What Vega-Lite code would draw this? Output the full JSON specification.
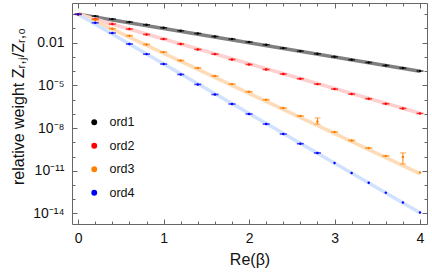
{
  "$schema": "https://vega.github.io/schema/vega-lite/v6.json",
  "width": 355,
  "height": 221,
  "autosize": {"type": "none"},
  "padding": {"left": 72, "top": 3, "right": 5, "bottom": 49},
  "background": "white",
  "config": {
    "font": "Liberation Sans",
    "view": {"stroke": "#666", "strokeWidth": 1},
    "axis": {"domain": false, "grid": false, "tickColor": "#666", "labelColor": "#111", "titleColor": "#111", "labelFont": "Liberation Sans", "titleFont": "Liberation Sans", "labelFontSize": 14, "titleFontSize": 16, "titleFontWeight": "normal"},
    "legend": {"labelFont": "Liberation Sans", "labelFontSize": 12.5, "labelColor": "#111"}
  },
  "datasets": {
    "pts": [
      {"s": "ord1", "x": 0, "y": 1, "cap": 1},
      {"s": "ord1", "x": 0.2, "y": 0.741, "cap": 1},
      {"s": "ord1", "x": 0.4, "y": 0.457, "cap": 1},
      {"s": "ord1", "x": 0.6, "y": 0.282, "cap": 1},
      {"s": "ord1", "x": 0.8, "y": 0.182, "cap": 1},
      {"s": "ord1", "x": 1.0, "y": 0.112, "cap": 1},
      {"s": "ord1", "x": 1.2, "y": 0.0692, "cap": 1},
      {"s": "ord1", "x": 1.4, "y": 0.0447, "cap": 1},
      {"s": "ord1", "x": 1.6, "y": 0.0275, "cap": 1},
      {"s": "ord1", "x": 1.8, "y": 0.0182, "cap": 1},
      {"s": "ord1", "x": 2.0, "y": 0.0112, "cap": 1},
      {"s": "ord1", "x": 2.2, "y": 0.00724, "cap": 1},
      {"s": "ord1", "x": 2.4, "y": 0.00417, "cap": 1},
      {"s": "ord1", "x": 2.6, "y": 0.00257, "cap": 1},
      {"s": "ord1", "x": 2.8, "y": 0.00166, "cap": 1},
      {"s": "ord1", "x": 3.0, "y": 0.00102, "cap": 1},
      {"s": "ord1", "x": 3.2, "y": 6.31e-4, "cap": 1},
      {"s": "ord1", "x": 3.4, "y": 4.07e-4, "cap": 1},
      {"s": "ord1", "x": 3.6, "y": 2.51e-4, "cap": 1},
      {"s": "ord1", "x": 3.8, "y": 1.66e-4, "cap": 1},
      {"s": "ord1", "x": 4.0, "y": 1.02e-4, "cap": 1},
      {"s": "ord2", "x": 0, "y": 1, "cap": 1},
      {"s": "ord2", "x": 0.2, "y": 0.457, "cap": 1},
      {"s": "ord2", "x": 0.4, "y": 0.204, "cap": 1},
      {"s": "ord2", "x": 0.6, "y": 0.0912, "cap": 1},
      {"s": "ord2", "x": 0.8, "y": 0.038, "cap": 1},
      {"s": "ord2", "x": 1.0, "y": 0.0182, "cap": 1},
      {"s": "ord2", "x": 1.2, "y": 0.00813, "cap": 1},
      {"s": "ord2", "x": 1.4, "y": 0.00339, "cap": 1},
      {"s": "ord2", "x": 1.6, "y": 0.00158, "cap": 1},
      {"s": "ord2", "x": 1.8, "y": 6.61e-4, "cap": 1},
      {"s": "ord2", "x": 2.0, "y": 2.95e-4, "cap": 1},
      {"s": "ord2", "x": 2.2, "y": 1.32e-4, "cap": 1},
      {"s": "ord2", "x": 2.4, "y": 6.31e-5, "cap": 1},
      {"s": "ord2", "x": 2.6, "y": 2.95e-5, "cap": 1},
      {"s": "ord2", "x": 2.8, "y": 1.23e-5, "cap": 1},
      {"s": "ord2", "x": 3.0, "y": 5.5e-6, "cap": 1},
      {"s": "ord2", "x": 3.2, "y": 2.45e-6, "cap": 1},
      {"s": "ord2", "x": 3.4, "y": 1.15e-6, "cap": 1},
      {"s": "ord2", "x": 3.6, "y": 5.13e-7, "cap": 1},
      {"s": "ord2", "x": 3.8, "y": 2.4e-7, "cap": 1},
      {"s": "ord2", "x": 4.0, "y": 1.07e-7, "cap": 1},
      {"s": "ord3", "x": 0, "y": 1, "cap": 1},
      {"s": "ord3", "x": 0.2, "y": 0.407, "cap": 1},
      {"s": "ord3", "x": 0.4, "y": 0.0955, "cap": 1},
      {"s": "ord3", "x": 0.6, "y": 0.0309, "cap": 1},
      {"s": "ord3", "x": 0.8, "y": 0.00759, "cap": 1},
      {"s": "ord3", "x": 1.0, "y": 0.00219, "cap": 1},
      {"s": "ord3", "x": 1.2, "y": 5.62e-4, "cap": 1},
      {"s": "ord3", "x": 1.4, "y": 1.66e-4, "cap": 1},
      {"s": "ord3", "x": 1.6, "y": 4.57e-5, "cap": 1},
      {"s": "ord3", "x": 1.8, "y": 1.23e-5, "cap": 1},
      {"s": "ord3", "x": 2.0, "y": 3.55e-6, "cap": 1},
      {"s": "ord3", "x": 2.2, "y": 9.77e-7, "cap": 1},
      {"s": "ord3", "x": 2.4, "y": 2.57e-7, "cap": 1},
      {"s": "ord3", "x": 2.6, "y": 7.08e-8, "cap": 1},
      {"s": "ord3", "x": 2.8, "y": 2.95e-8, "cap": 0},
      {"s": "ord3", "x": 3.0, "y": 5.25e-9, "cap": 1},
      {"s": "ord3", "x": 3.2, "y": 1.35e-9, "cap": 1},
      {"s": "ord3", "x": 3.4, "y": 3.98e-10, "cap": 1},
      {"s": "ord3", "x": 3.6, "y": 1.1e-10, "cap": 1},
      {"s": "ord3", "x": 3.8, "y": 9.12e-11, "cap": 0},
      {"s": "ord3", "x": 4.0, "y": 7.59e-12, "cap": 0},
      {"s": "ord4", "x": 0, "y": 1, "cap": 1},
      {"s": "ord4", "x": 0.2, "y": 0.251, "cap": 1},
      {"s": "ord4", "x": 0.4, "y": 0.0479, "cap": 1},
      {"s": "ord4", "x": 0.6, "y": 0.00813, "cap": 1},
      {"s": "ord4", "x": 0.8, "y": 0.00158, "cap": 1},
      {"s": "ord4", "x": 1.0, "y": 3.16e-4, "cap": 1},
      {"s": "ord4", "x": 1.2, "y": 5.89e-5, "cap": 1},
      {"s": "ord4", "x": 1.4, "y": 1.17e-5, "cap": 1},
      {"s": "ord4", "x": 1.6, "y": 2.29e-6, "cap": 1},
      {"s": "ord4", "x": 1.8, "y": 4.9e-7, "cap": 1},
      {"s": "ord4", "x": 2.0, "y": 9.77e-8, "cap": 1},
      {"s": "ord4", "x": 2.2, "y": 1.91e-8, "cap": 1},
      {"s": "ord4", "x": 2.4, "y": 3.8e-9, "cap": 1},
      {"s": "ord4", "x": 2.6, "y": 7.94e-10, "cap": 1},
      {"s": "ord4", "x": 2.8, "y": 1.78e-10, "cap": 1},
      {"s": "ord4", "x": 3.0, "y": 3.47e-11, "cap": 0},
      {"s": "ord4", "x": 3.2, "y": 6.92e-12, "cap": 0},
      {"s": "ord4", "x": 3.4, "y": 1.45e-12, "cap": 0},
      {"s": "ord4", "x": 3.6, "y": 2.88e-13, "cap": 0},
      {"s": "ord4", "x": 3.8, "y": 5.89e-14, "cap": 0},
      {"s": "ord4", "x": 4.0, "y": 1.17e-14, "cap": 0}
    ],
    "errs": [
      {"s": "ord3", "x": 2.8, "lo": 1.91e-8, "hi": 5.13e-8},
      {"s": "ord3", "x": 3.8, "lo": 2.95e-11, "hi": 1.78e-10}
    ],
    "fits": [
      {"s": "ord1", "x": 0, "y": 1},
      {"s": "ord1", "x": 4, "y": 1.0e-4},
      {"s": "ord2", "x": 0, "y": 1},
      {"s": "ord2", "x": 4, "y": 1.1e-7},
      {"s": "ord3", "x": 0, "y": 1.2},
      {"s": "ord3", "x": 4, "y": 6.3e-12},
      {"s": "ord4", "x": 0, "y": 1},
      {"s": "ord4", "x": 4, "y": 1.1e-14}
    ]
  },
  "layer": [
    {
      "data": {"name": "fits"},
      "mark": {"type": "line", "strokeWidth": 3.6, "strokeCap": "butt"},
      "encoding": {
        "x": {"field": "x", "type": "quantitative", "scale": {"domain": [-0.072, 4.082], "nice": false, "zero": false},
              "axis": {"orient": "bottom", "values": [0, 1, 2, 3, 4], "tickSize": -5, "labelPadding": 12, "title": "Re(β)", "titlePadding": 6}},
        "y": {"field": "y", "type": "quantitative", "scale": {"type": "log", "domain": [1.8e-15, 6.2], "nice": false},
              "axis": {"orient": "left", "values": [0.01, 1e-5, 1e-8, 1e-11, 1e-14], "tickSize": -5, "labelPadding": 13,
                       "labelExpr": "datum.value > 0.005 ? '0.01' : datum.value > 5e-6 ? '10⁻⁵' : datum.value > 5e-9 ? '10⁻⁸' : datum.value > 5e-12 ? '10⁻¹¹' : '10⁻¹⁴'",
                       "title": "relative weight Zᵣ,ⱼ/Zᵣ,₀", "titlePadding": 6, "titleY": 103}},
        "color": {"field": "s", "type": "nominal", "legend": null,
                  "scale": {"domain": ["ord1", "ord2", "ord3", "ord4"], "range": ["#808080", "#ffd0d0", "#ffdcb8", "#d0e2ff"]}},
        "detail": {"field": "s"}
      }
    },
    {
      "data": {"name": "errs"},
      "mark": {"type": "rule", "color": "#ff8000", "strokeWidth": 1},
      "encoding": {
        "x": {"field": "x", "type": "quantitative",
              "axis": {"orient": "bottom", "values": [0, 0.2, 0.4, 0.6, 0.8, 1, 1.2, 1.4, 1.6, 1.8, 2, 2.2, 2.4, 2.6, 2.8, 3, 3.2, 3.4, 3.6, 3.8, 4], "tickSize": -3, "labels": false, "title": null}},
        "y": {"field": "lo", "type": "quantitative",
              "axis": {"orient": "left", "values": [1, 0.1, 0.01, 1e-3, 1e-4, 1e-5, 1e-6, 1e-7, 1e-8, 1e-9, 1e-10, 1e-11, 1e-12, 1e-13, 1e-14], "tickSize": -3, "labels": false, "title": null}},
        "y2": {"field": "hi"}
      }
    },
    {
      "data": {"name": "errs"},
      "mark": {"type": "tick", "orient": "horizontal", "color": "#ff8000", "size": 6, "thickness": 1},
      "encoding": {
        "x": {"field": "x", "type": "quantitative",
              "axis": {"orient": "top", "values": [0, 0.2, 0.4, 0.6, 0.8, 1, 1.2, 1.4, 1.6, 1.8, 2, 2.2, 2.4, 2.6, 2.8, 3, 3.2, 3.4, 3.6, 3.8, 4], "tickSize": -3, "labels": false, "title": null}},
        "y": {"field": "lo", "type": "quantitative",
              "axis": {"orient": "right", "values": [1, 0.1, 0.01, 1e-3, 1e-4, 1e-5, 1e-6, 1e-7, 1e-8, 1e-9, 1e-10, 1e-11, 1e-12, 1e-13, 1e-14], "tickSize": -3, "labels": false, "title": null}}
      }
    },
    {
      "data": {"name": "errs"},
      "mark": {"type": "tick", "orient": "horizontal", "color": "#ff8000", "size": 6, "thickness": 1},
      "encoding": {
        "x": {"field": "x", "type": "quantitative",
              "axis": {"orient": "top", "values": [0, 1, 2, 3, 4], "tickSize": -5, "labels": false, "title": null}},
        "y": {"field": "hi", "type": "quantitative",
              "axis": {"orient": "right", "values": [0.01, 1e-5, 1e-8, 1e-11, 1e-14], "tickSize": -5, "labels": false, "title": null}}
      }
    },
    {
      "data": {"name": "pts"},
      "transform": [{"filter": "datum.cap == 1"}],
      "mark": {"type": "tick", "orient": "horizontal", "size": 7, "thickness": 1.6},
      "encoding": {
        "x": {"field": "x", "type": "quantitative", "axis": null},
        "y": {"field": "y", "type": "quantitative", "axis": null},
        "color": {"field": "s", "type": "nominal", "legend": null,
                  "scale": {"domain": ["ord1", "ord2", "ord3", "ord4"], "range": ["#000000", "#ff0000", "#ff8000", "#0000ff"]}}
      }
    },
    {
      "data": {"name": "pts"},
      "mark": {"type": "circle", "size": 6, "opacity": 1},
      "encoding": {
        "x": {"field": "x", "type": "quantitative", "axis": null},
        "y": {"field": "y", "type": "quantitative", "axis": null},
        "color": {"field": "s", "type": "nominal",
                  "scale": {"domain": ["ord1", "ord2", "ord3", "ord4"], "range": ["#000000", "#ff0000", "#ff8000", "#0000ff"]},
                  "legend": {"orient": "none", "legendX": 16, "legendY": 113, "title": null, "symbolType": "circle", "symbolSize": 34, "symbolStrokeWidth": 0, "symbolOpacity": 1, "labelOffset": 9, "rowPadding": 10.5}}
      }
    }
  ],
  "resolve": {"scale": {"color": "independent"}, "axis": {"x": "independent", "y": "independent"}}
}
